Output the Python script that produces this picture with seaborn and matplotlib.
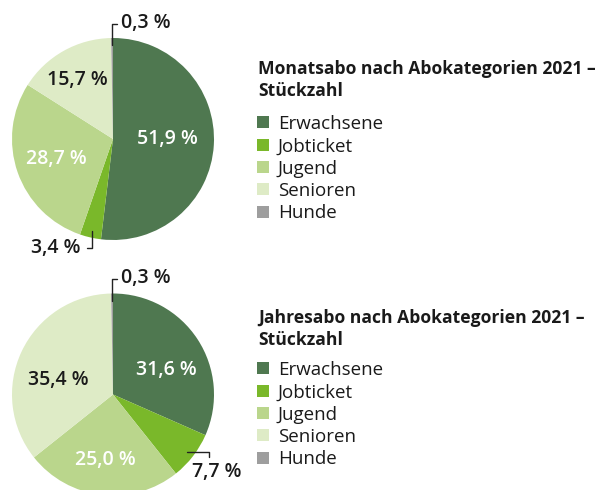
import numpy as np
import matplotlib
matplotlib.use("Agg")
import matplotlib.pyplot as plt
import seaborn as sns

# Daten
kategorien = ["Erwachsene", "Jobticket", "Jugend", "Senioren", "Hunde"]
monatsabo = [51.9, 3.4, 28.7, 15.7, 0.3]
jahresabo = [31.6, 7.7, 25.0, 35.4, 0.3]
titel_monat = "Monatsabo nach Abokategorien 2021 –\nStückzahl"
titel_jahr = "Jahresabo nach Abokategorien 2021 –\nStückzahl"

farben = ["#4f7850", "#7ab82a", "#bad68c", "#deebc6", "#9e9e9e"]

sns.set_theme(style="white")
plt.rcParams["font.family"] = ["Open Sans", "DejaVu Sans"]

W, H = 606, 490
fig = plt.figure(figsize=(W / 100, H / 100), dpi=100)


def px_axes(cx, cy, r):
    # Achse in Pixelkoordinaten (y von oben)
    return fig.add_axes([(cx - r) / W, (H - cy - r) / H, 2 * r / W, 2 * r / H])


def fmt(v):
    return f"{v:.1f}".replace(".", ",") + " %"


def pie_panel(ax, werte, innen, aussen):
    wedges, _ = ax.pie(werte, colors=farben, startangle=90, counterclock=False,
                       radius=1, wedgeprops=dict(linewidth=0))
    ax.set_xlim(-1, 1)
    ax.set_ylim(-1, 1)
    ax.set_aspect("equal")
    ax.axis("off")
    for i, w in enumerate(wedges):
        mid = np.deg2rad((w.theta1 + w.theta2) / 2)
        if i in innen:
            r, col, dang = innen[i]
            a = mid + np.deg2rad(dang)
            ax.text(r * np.cos(a), r * np.sin(a), fmt(werte[i]), color=col,
                    ha="center", va="center", fontsize=14, fontweight="semibold")
        else:
            kind = aussen[i]
            x0, y0 = 0.93 * np.cos(mid), 0.93 * np.sin(mid)
            if kind == "oben":
                xs = [x0, x0, x0 + 0.05]
                ys = [y0, 1.14, 1.14]
                tx, ty, ha = x0 + 0.09, 1.15, "left"
            elif kind == "unten":
                xs = [x0, x0, x0 - 0.05]
                ys = [y0, -1.08, -1.08]
                tx, ty, ha = x0 - 0.11, -1.08, "right"
            else:
                xs = [x0, x0 + 0.21, x0 + 0.21]
                ys = [y0, y0, y0 - 0.05]
                tx, ty, ha = x0 + 0.05, y0 - 0.2, "left"
            ax.plot(xs, ys, color="#222222", lw=1, clip_on=False)
            ax.text(tx, ty, fmt(werte[i]), color="#1a1a1a", ha=ha, va="center",
                    fontsize=14, fontweight="semibold", clip_on=False)
    return wedges


ax1 = px_axes(113, 139, 101)
w1 = pie_panel(ax1, monatsabo,
               innen={0: (0.54, "white", 3), 2: (0.59, "white", 0), 3: (0.68, "#1a1a1a", 2)},
               aussen={1: "unten", 4: "oben"})

ax2 = px_axes(113, 394.5, 101)
w2 = pie_panel(ax2, jahresabo,
               innen={0: (0.58, "white", -8), 2: (0.65, "white", 0), 3: (0.56, "#1a1a1a", 10)},
               aussen={1: "rechts", 4: "oben"})


def legende(wedges, titel, ty, ly):
    fig.text(258 / W, 1 - ty / H, titel, ha="left", va="top", fontsize=12.6,
             fontweight="bold", color="#1a1a1a", linespacing=1.28)
    fig.legend(wedges, kategorien, loc="upper left",
               bbox_to_anchor=(257 / W, 1 - ly / H), frameon=False,
               fontsize=13.5, handlelength=0.62, handleheight=0.62,
               handletextpad=0.5, labelspacing=0.23, borderpad=0,
               borderaxespad=0, labelcolor="#1a1a1a")


legende(w1, titel_monat, 60, 115)
legende(w2, titel_jahr, 309, 361)

fig.savefig("out.png", dpi=100)
